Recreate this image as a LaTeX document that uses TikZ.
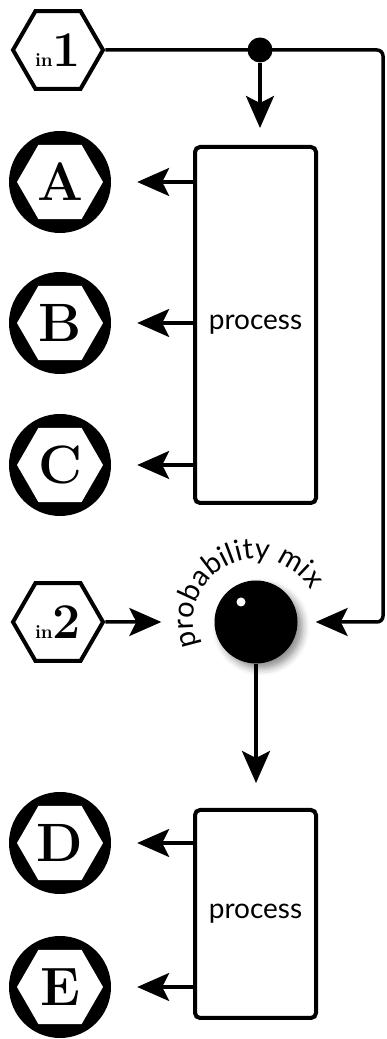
\documentclass[tikz,border=0pt]{standalone}
\usepackage{fontspec}
\newfontfamily\labelfont{Lato}
\usetikzlibrary{arrows.meta,shapes.geometric,decorations.text,shadows.blur}
\tikzset{
  wire/.style={line width=3.5pt},
  >={Stealth[length=32pt,width=28pt,inset=7pt]},
  inhex/.style={regular polygon,regular polygon sides=6,minimum size=90pt,inner sep=0pt,draw,line width=4pt,fill=white},
  outring/.style={circle,fill=black,minimum size=102pt,inner sep=0pt,
    path picture={\fill[white] (path picture bounding box.center) +(0:43pt) -- +(60:43pt) -- +(120:43pt)
      -- +(180:43pt) -- +(240:43pt) -- +(300:43pt) -- cycle;},
    font=\fontsize{54}{54}\selectfont\bfseries},
  procbox/.style={draw,line width=4pt,rounded corners=5pt,minimum width=121pt,fill=white,
    font=\labelfont\fontsize{28}{28}\selectfont},
  junction/.style={circle,fill=black,minimum size=25pt,inner sep=0pt},
  knob/.style={circle,fill=black,minimum size=83pt,inner sep=0pt,
    blur shadow={shadow xshift=5pt,shadow yshift=-5pt,shadow blur radius=7pt,shadow opacity=45}}
}
\newcommand{\inlabel}[1]{{\fontsize{19}{19}\selectfont\bfseries in}{\fontsize{50}{50}\selectfont\bfseries #1}}
\begin{document}
\begin{tikzpicture}[x=1pt,y=1pt]
\useasboundingbox (0,0) rectangle (387,1039);
\node[inhex] (in1) at (58,989) {\inlabel{1}};
\node[inhex] (in2) at (58,417) {\inlabel{2}};
\node[procbox,minimum height=356pt] (proc1) at (255.5,714) {process};
\node[procbox,minimum height=208pt] (proc2) at (255.5,125) {process};
\node[outring] (A) at (60,857) {A};
\node[outring] (B) at (60,716) {B};
\node[outring] (C) at (60,574) {C};
\node[outring] (D) at (60,196) {D};
\node[outring] (E) at (60,52) {E};
\node[knob] (mix) at (256,417) {};
\fill[white] ([shift={(-15pt,20pt)}]mix.center) circle (4.5pt);
\path[decorate,decoration={text along path,text align=fit to path,
  text={|\labelfont\fontsize{29}{29}\selectfont|probability mix}}]
  (mix) ++(202:63pt) arc[start angle=202,end angle=33,radius=63pt];
\coordinate (c1) at (383,989);
\coordinate (c2) at (383,417);
\draw[wire,->,rounded corners=6pt,shorten >=18pt] (in1) -- (c1) -- (c2) -- (mix);
\node[junction] (split) at (260,989) {};
\draw[wire,->,shorten >=17pt] (split) -- (split |- proc1.north);
\draw[wire,->,shorten >=53pt] (in2) -- (mix);
\draw[wire,->,shorten >=25pt] (mix) -- (mix |- proc2.north);
\foreach \o in {A,B,C}
  \draw[wire,->,shorten >=26pt] (\o -| proc1.west) -- (\o);
\foreach \o in {D,E}
  \draw[wire,->,shorten >=26pt] (\o -| proc2.west) -- (\o);
\end{tikzpicture}
\end{document}
